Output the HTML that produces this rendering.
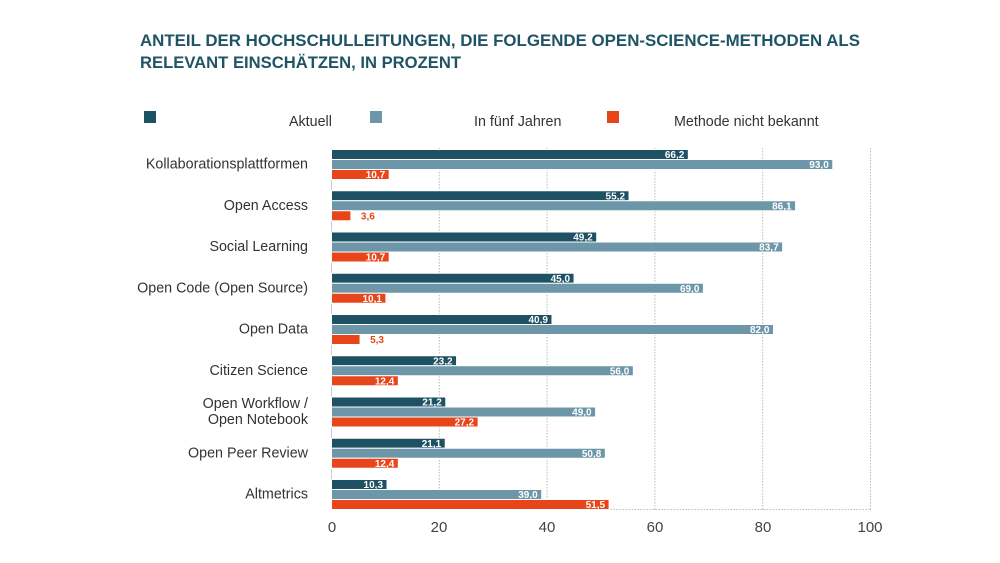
<!DOCTYPE html>
<html><head><meta charset="utf-8"><style>
body{margin:0;background:#fff;width:1000px;height:563px;overflow:hidden}
svg{display:block}
.t{font-family:"Liberation Sans",sans-serif;font-weight:bold;fill:#1f5464;font-size:17px}
.l{font-family:"Liberation Sans",sans-serif;fill:#333;font-size:14.3px}
.v{font-family:"Liberation Sans",sans-serif;font-weight:bold;fill:#fff;font-size:10px;text-anchor:end}
.x{font-family:"Liberation Sans",sans-serif;fill:#444;font-size:15px;text-anchor:middle}
</style></head><body>
<svg width="1000" height="563" xmlns="http://www.w3.org/2000/svg">
<text class="t" x="140" y="46" textLength="720" lengthAdjust="spacingAndGlyphs">ANTEIL DER HOCHSCHULLEITUNGEN, DIE FOLGENDE OPEN-SCIENCE-METHODEN ALS</text>
<text class="t" x="140" y="68" textLength="321" lengthAdjust="spacingAndGlyphs">RELEVANT EINSCHÄTZEN, IN PROZENT</text>
<rect x="144" y="111" width="12" height="12" fill="#1e5163"/>
<text class="l" x="289" y="126">Aktuell</text>
<rect x="370" y="111" width="12" height="12" fill="#6d97a8"/>
<text class="l" x="474" y="126">In fünf Jahren</text>
<rect x="607" y="111" width="12" height="12" fill="#e8461a"/>
<text class="l" x="674" y="126">Methode nicht bekannt</text>
<g stroke="#bbb" stroke-dasharray="1.5,1.5" stroke-width="1">
<line x1="439.3" y1="148" x2="439.3" y2="510"/>
<line x1="547.1" y1="148" x2="547.1" y2="510"/>
<line x1="654.9" y1="148" x2="654.9" y2="510"/>
<line x1="762.7" y1="148" x2="762.7" y2="510"/>
<line x1="870.5" y1="148" x2="870.5" y2="510"/>
<line x1="331.5" y1="509.5" x2="870.5" y2="509.5"/>
</g>
<line x1="331.5" y1="148" x2="331.5" y2="510" stroke="#ccc"/>
<g id="bars"></g>
<g class="x"><text x="332" y="532">0</text><text x="439" y="532">20</text><text x="547" y="532">40</text><text x="655" y="532">60</text><text x="763" y="532">80</text><text x="870" y="532">100</text></g>
</svg>
<script>
var d=[["Kollaborationsplattformen",66.2,93.0,10.7],["Open Access",55.2,86.1,3.6],["Social Learning",49.2,83.7,10.7],["Open Code (Open Source)",45.0,69.0,10.1],["Open Data",40.9,82.0,5.3],["Citizen Science",23.2,56.0,12.4],["Open Workflow /|Open Notebook",21.2,49.0,27.2],["Open Peer Review",21.1,50.8,12.4],["Altmetrics",10.3,39.0,51.5]];
var c=["#1e5163","#6d97a8","#e8461a"],s="";
d.forEach(function(r,i){var y0=149.5+i*41.25;
var lab=r[0].split("|");
if(lab.length==1)s+='<text class="l" x="308" y="'+(y0+19)+'" text-anchor="end">'+lab[0]+'</text>';
else{s+='<text class="l" x="308" y="'+(y0+11)+'" text-anchor="end">'+lab[0]+'</text><text class="l" x="308" y="'+(y0+27)+'" text-anchor="end">'+lab[1]+'</text>';}
for(var k=0;k<3;k++){var v=r[k+1],w=v*5.39,y=y0+k*10;
s+='<rect x="331.5" y="'+y+'" width="'+w+'" height="10" fill="'+c[k]+'" stroke="#fff" stroke-width="1"/>';
var t=v.toFixed(1).replace(".",",");
if(w>30)s+='<text class="v" x="'+(331.5+w-4)+'" y="'+(y+8.5)+'">'+t+'</text>';
else s+='<text class="v" style="text-anchor:start;fill:#e8461a" x="'+(331.5+w+10)+'" y="'+(y+8.5)+'">'+t+'</text>';}
});
document.getElementById("bars").innerHTML=s;
</script>
</body></html>
